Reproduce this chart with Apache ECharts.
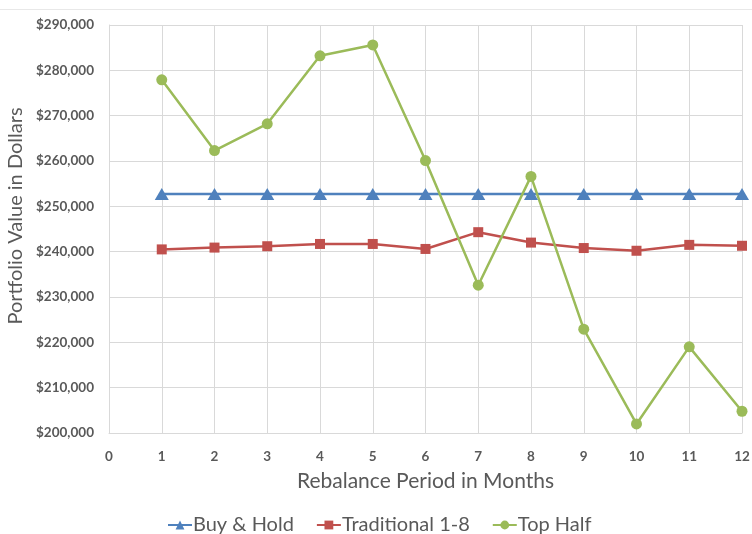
<!DOCTYPE html>
<html>
<head>
<meta charset="utf-8">
<script src="https://cdn.jsdelivr.net/npm/echarts@6/dist/echarts.min.js"></script>
<style>
  html, body { margin: 0; padding: 0; background: #fff; }
  #chart { width: 752px; height: 534px; }
</style>
</head>
<body>
<div id="chart"></div>
<script>
// Rebalance period (months) for each observation
const periods = [1, 2, 3, 4, 5, 6, 7, 8, 9, 10, 11, 12];

// Ending portfolio values in dollars
const buyHold = [252700, 252700, 252700, 252700, 252700, 252700, 252700, 252700, 252700, 252700, 252700, 252700];
const traditional = [240500, 240900, 241200, 241700, 241700, 240600, 244300, 242000, 240800, 240200, 241500, 241300];
const topHalf = [277900, 262300, 268200, 283200, 285600, 260100, 232600, 256600, 222900, 202000, 219000, 204800];

const seriesNames = ['Buy & Hold', 'Traditional 1-8', 'Top Half'];

const font = 'Lato, "Open Sans", sans-serif';
const textGray = '#595959';
const gridGray = '#d9d9d9';

const pairs = vals => periods.map((p, i) => [p, vals[i]]);

const chart = echarts.init(document.getElementById('chart'), null, { renderer: 'canvas' });

chart.setOption({
  animation: false,
  backgroundColor: '#ffffff',
  graphic: [{
    type: 'line',
    shape: { x1: 0, y1: 9.5, x2: 752, y2: 9.5 },
    style: { stroke: '#e8e8e8', lineWidth: 1 }
  }],
  grid: { left: 109, right: 10, top: 25, bottom: 101, containLabel: false, outerBoundsMode: 'none' },
  legend: {
    top: 510,
    left: 162,
    itemGap: 22,
    itemWidth: 24,
    itemHeight: 11,
    textStyle: { color: textGray, fontFamily: font, fontSize: 20, padding: [0, 0, 0, -4] },
    data: seriesNames
  },
  xAxis: {
    type: 'value',
    min: 0,
    max: 12,
    interval: 1,
    name: 'Rebalance Period in Months',
    nameLocation: 'middle',
    nameGap: 38,
    nameTextStyle: { color: textGray, fontFamily: font, fontSize: 21 },
    axisLine: { show: true, lineStyle: { color: gridGray, width: 1 } },
    axisTick: { show: false },
    axisLabel: { color: textGray, fontFamily: font, fontSize: 13.5, fontWeight: 'bold', margin: 17 },
    splitLine: { show: true, lineStyle: { color: gridGray, width: 1 } }
  },
  yAxis: {
    type: 'value',
    min: 200000,
    max: 290000,
    interval: 10000,
    name: 'Portfolio Value in Dollars',
    nameLocation: 'middle',
    nameGap: 80,
    nameRotate: 90,
    nameTextStyle: { color: textGray, fontFamily: font, fontSize: 20, padding: [0, 0, 0, 26] },
    axisLine: { show: true, lineStyle: { color: gridGray, width: 1 } },
    axisTick: { show: false },
    axisLabel: {
      color: textGray, fontFamily: font, fontSize: 13.5, fontWeight: 'bold', margin: 15,
      formatter: v => '$' + v.toLocaleString('en-US')
    },
    splitLine: { show: true, lineStyle: { color: gridGray, width: 1 } }
  },
  series: [
    {
      name: seriesNames[0],
      type: 'line',
      data: pairs(buyHold),
      symbol: 'triangle',
      symbolSize: [14, 12],
      lineStyle: { color: '#4f81bd', width: 2.5 },
      itemStyle: { color: '#4f81bd' }
    },
    {
      name: seriesNames[1],
      type: 'line',
      data: pairs(traditional),
      symbol: 'rect',
      symbolSize: 10,
      lineStyle: { color: '#c0504d', width: 2.5 },
      itemStyle: { color: '#c0504d' }
    },
    {
      name: seriesNames[2],
      type: 'line',
      data: pairs(topHalf),
      symbol: 'circle',
      symbolSize: 11,
      lineStyle: { color: '#9bbb59', width: 2.5 },
      itemStyle: { color: '#9bbb59' }
    }
  ]
});
</script>
</body>
</html>
